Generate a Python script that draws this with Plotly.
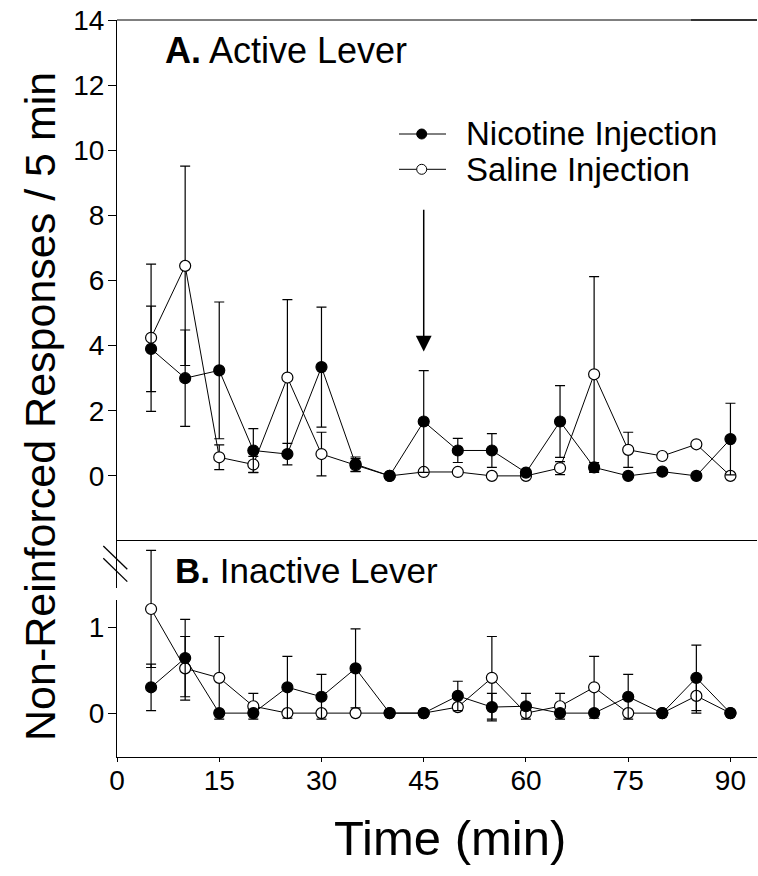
import plotly.graph_objects as go

# ---------------- data ----------------
time_min = [5, 10, 15, 20, 25, 30, 35, 40, 45, 50, 55, 60, 65, 70, 75, 80, 85, 90]

active_nic = [3.90, 3.00, 3.24, 0.78, 0.67, 3.34, 0.36, 0.00, 1.67, 0.78, 0.78, 0.10, 1.67, 0.26, 0.00, 0.13, 0.00, 1.13]
active_nic_err = [1.31, 1.48, 2.10, 0.67, 0.33, 1.84, 0.22, 0.00, 1.56, 0.37, 0.52, 0.00, 1.10, 0.15, 0.00, 0.00, 0.00, 1.10]
active_sal = [4.24, 6.45, 0.57, 0.35, 3.02, 0.67, 0.33, 0.00, 0.12, 0.12, 0.00, 0.00, 0.24, 3.12, 0.80, 0.61, 0.97, 0.00]
active_sal_err = [2.26, 3.06, 0.38, 0.25, 2.39, 0.67, 0.20, 0.00, 0.00, 0.00, 0.00, 0.00, 0.20, 3.00, 0.54, 0.00, 0.00, 0.00]

inactive_nic = [0.30, 0.64, 0.00, 0.00, 0.30, 0.19, 0.52, 0.00, 0.00, 0.20, 0.07, 0.08, 0.00, 0.00, 0.19, 0.00, 0.41, 0.00]
inactive_nic_err = [0.27, 0.45, 0.00, 0.00, 0.36, 0.26, 0.46, 0.00, 0.00, 0.17, 0.16, 0.15, 0.00, 0.00, 0.26, 0.00, 0.38, 0.00]
inactive_sal = [1.21, 0.52, 0.41, 0.08, 0.00, 0.00, 0.00, 0.00, 0.00, 0.07, 0.41, 0.00, 0.08, 0.30, 0.00, 0.00, 0.20, 0.00]
inactive_sal_err = [0.68, 0.37, 0.48, 0.15, 0.00, 0.00, 0.00, 0.00, 0.00, 0.00, 0.48, 0.00, 0.15, 0.36, 0.00, 0.00, 0.20, 0.00]

x_ticks = [0, 15, 30, 45, 60, 75, 90]
top_y_ticks = [0, 2, 4, 6, 8, 10, 12, 14]
bottom_y_ticks = [0, 1]

injection_time = 45
arrow_top, arrow_tip = 8.22, 3.82

series_names = ["Nicotine Injection", "Saline Injection"]
# --------------------------------------

FONT = "Liberation Sans, Arial, Helvetica, sans-serif"
PAGE_W, PAGE_H = 758, 876
BODY = 0  # page body margin is removed by post_script below
W, H = PAGE_W - BODY, PAGE_H - BODY
PLOT_L, PLOT_R, PLOT_T, PLOT_B = 117, 757, 20, 757  # page pixel positions of plot area
ML = PLOT_L - BODY
MT = PLOT_T - BODY
MR = PAGE_W - PLOT_R
MB = PAGE_H - PLOT_B
PW, PH = PLOT_R - PLOT_L, PLOT_B - PLOT_T
split = 216 / PH  # bottom panel fraction


def px2paper_x(px):
    return (px - PLOT_L) / PW


def px2paper_y(py):
    return (PLOT_B - py) / PH


fig = go.Figure()


def add_series(y, err, yaxis, filled):
    fig.add_trace(go.Scatter(
        x=time_min, y=y, yaxis=yaxis, mode="lines+markers",
        line=dict(color="black", width=1),
        marker=dict(size=11, color="black" if filled else "white",
                    line=dict(color="black", width=1.2)),
        error_y=dict(type="data", array=err, visible=True, color="black",
                     thickness=1.2, width=5),
        showlegend=False, hoverinfo="skip"))


add_series(active_sal, active_sal_err, "y", False)
add_series(active_nic, active_nic_err, "y", True)
add_series(inactive_sal, inactive_sal_err, "y2", False)
add_series(inactive_nic, inactive_nic_err, "y2", True)

tickfont = dict(family=FONT, size=28, color="black")

fig.update_layout(
    width=W, height=H,
    margin=dict(l=ML, r=MR, t=MT, b=MB),
    paper_bgcolor="white", plot_bgcolor="white",
    xaxis=dict(range=[0, PW / 6.816], tickvals=x_ticks, ticks="outside", ticklen=4,
               tickcolor="black", showline=True, linecolor="black", linewidth=1,
               mirror=True, showgrid=False, zeroline=False, anchor="y2",
               tickfont=tickfont, ticklabelstandoff=-6, automargin=False,
               ticklabeloverflow="allow"),
    yaxis=dict(domain=[split, 1], range=[-2, 14], tickvals=top_y_ticks, ticks="outside",
               ticklen=8, tickcolor="black", showline=True, linecolor="black",
               linewidth=1.2, showgrid=False, zeroline=False, anchor="x",
               tickfont=tickfont, ticklabelstandoff=-2, automargin=False,
               ticklabeloverflow="allow"),
    yaxis2=dict(domain=[0, split], range=[-0.51, 2.0], tickvals=bottom_y_ticks,
                ticks="outside", ticklen=8, tickcolor="black", showline=True,
                linecolor="black", linewidth=1.2, showgrid=False, zeroline=False,
                anchor="x", tickfont=tickfont, ticklabelstandoff=-2, automargin=False,
                ticklabeloverflow="allow"),
)

shapes = []
# top frame line
shapes.append(dict(type="line", xref="paper", yref="paper", x0=0, x1=1, y0=1, y1=1,
                   line=dict(color="black", width=1)))
shapes.append(dict(type="line", xref="paper", yref="paper", x0=px2paper_x(691), x1=1,
                   y0=1, y1=1, line=dict(color="#333", width=2.2)))
# gap in the axis below the break
shapes.append(dict(type="rect", xref="paper", yref="paper", x0=px2paper_x(113),
                   x1=px2paper_x(121), y0=px2paper_y(600), y1=px2paper_y(588),
                   fillcolor="white", line=dict(width=0)))
# break marks
for y_start in (546, 558.3):
    shapes.append(dict(type="line", xref="paper", yref="paper",
                       x0=px2paper_x(103.3), x1=px2paper_x(127.3),
                       y0=px2paper_y(y_start), y1=px2paper_y(y_start + 23.3),
                       line=dict(color="black", width=1.3)))

# legend (manual)
legend_rows = [(134, True), (169.3, False)]
for (py, filled) in legend_rows:
    yp = px2paper_y(py)
    shapes.append(dict(type="line", xref="paper", yref="paper",
                       x0=px2paper_x(399), x1=px2paper_x(446), y0=yp, y1=yp,
                       line=dict(color="black", width=1)))
    shapes.append(dict(type="circle", xref="paper", yref="paper",
                       xsizemode="pixel", ysizemode="pixel",
                       xanchor=px2paper_x(421.7), yanchor=yp,
                       x0=-5, x1=5, y0=-5, y1=5,
                       fillcolor="black" if filled else "white",
                       line=dict(color="black", width=1)))
fig.update_layout(shapes=shapes)

annotations = []
for (py, _), name in zip(legend_rows, series_names):
    annotations.append(dict(text=name, xref="paper", yref="paper",
                            x=px2paper_x(464), y=px2paper_y(py), xanchor="left",
                            yanchor="middle", showarrow=False,
                            font=dict(family=FONT, size=33, color="black")))

annotations.append(dict(text="<b>A.</b> Active Lever", xref="paper", yref="paper",
                        x=px2paper_x(163), y=px2paper_y(50), xanchor="left",
                        yanchor="middle", showarrow=False,
                        font=dict(family=FONT, size=36, color="black")))
annotations.append(dict(text="<b>B.</b> Inactive Lever", xref="paper", yref="paper",
                        x=px2paper_x(173), y=px2paper_y(570), xanchor="left",
                        yanchor="middle", showarrow=False,
                        font=dict(family=FONT, size=35, color="black")))

# injection arrow
annotations.append(dict(x=injection_time, y=arrow_tip, xref="x", yref="y",
                        ax=injection_time, ay=arrow_top, axref="x", ayref="y",
                        text="", showarrow=True, arrowhead=2, arrowsize=2.1,
                        arrowwidth=1.5, arrowcolor="black", standoff=0))

# axis titles
annotations.append(dict(text="Non-Reinforced Responses / 5 min", xref="paper",
                        yref="paper", x=px2paper_x(40), y=px2paper_y(407),
                        textangle=-90, showarrow=False, xanchor="center",
                        yanchor="middle",
                        font=dict(family=FONT, size=43, color="black")))
annotations.append(dict(text="Time (min)", xref="paper", yref="paper",
                        x=px2paper_x(450), y=px2paper_y(838), showarrow=False,
                        xanchor="center", yanchor="middle",
                        font=dict(family=FONT, size=49, color="black")))

fig.update_layout(annotations=annotations)

fig.write_html("out.html",
               config={"displayModeBar": False},
               post_script="document.body.style.margin='0px';document.body.style.overflow='hidden';")
